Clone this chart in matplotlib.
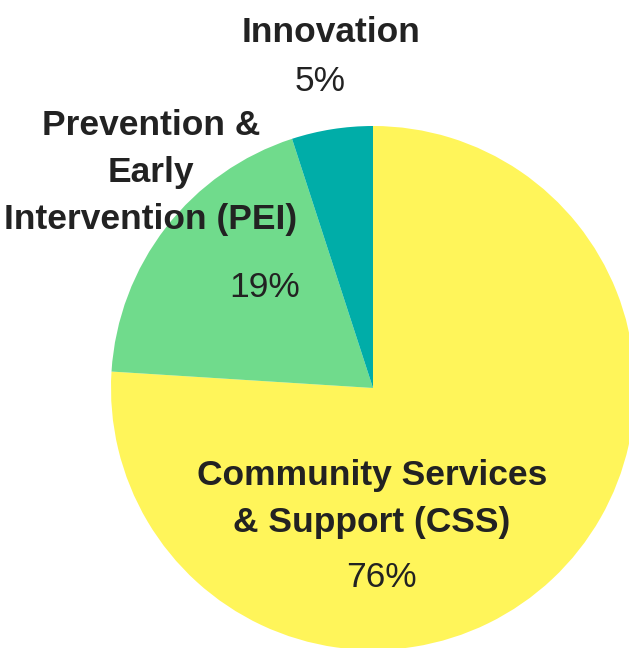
import matplotlib
matplotlib.use('Agg')
import matplotlib.pyplot as plt

plt.rcParams['font.family'] = ['Liberation Sans', 'DejaVu Sans']

# data
categories = ['Community Services\n& Support (CSS)',
              'Prevention &\nEarly\nIntervention (PEI)',
              'Innovation']
shares = [76, 19, 5]
colors = ['#FFF55A', '#70DB8C', '#00ADA8']

W, H = 629, 648
fig = plt.figure(figsize=(W / 100, H / 100), dpi=100)
ax = fig.add_axes([0, 0, 1, 1])

ax.pie(shares, colors=colors, startangle=90, counterclock=False,
       center=(373, H - 388), radius=262, frame=True,
       wedgeprops=dict(linewidth=0))
ax.set_xlim(0, W)
ax.set_ylim(0, H)
ax.set_aspect('auto')
ax.axis('off')

# label placement (pixels from top: x centre, baseline of last name line, pct x, pct baseline)
label_pos = [(372, 532, 381, 587),
             (151, 229, 265, 297),
             (331, 42, 320, 91)]
txt = '#222222'
fs = 25.5
for name, val, (x, y, px, py) in zip(categories, shares, label_pos):
    ax.text(x, H - y, name, ha='center', va='baseline', fontsize=fs,
            fontweight='bold', color=txt, linespacing=1.53,
            multialignment='center')
    ax.text(px, H - py, f'{val}%', ha='center', va='baseline',
            fontsize=fs, color=txt)

fig.savefig('out.png', dpi=100)
